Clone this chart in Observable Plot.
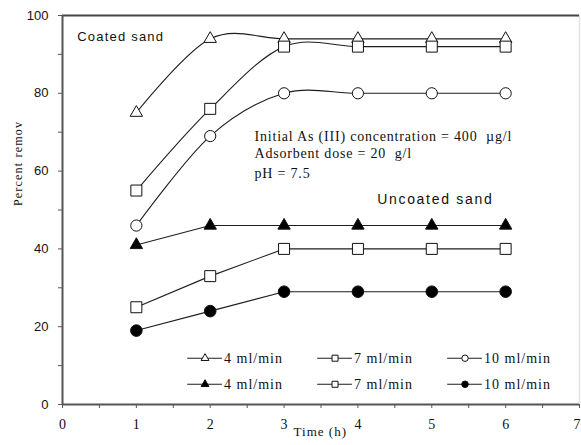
<!DOCTYPE html>
<html>
<head>
<meta charset="utf-8">
<script src="https://cdn.jsdelivr.net/npm/d3@7"></script>
<script src="https://cdn.jsdelivr.net/npm/@observablehq/plot@0.6"></script>
<style>
  html, body { margin: 0; padding: 0; background: #fff; }
  #chart svg { display: block; }
</style>
</head>
<body>
<div id="chart"></div>
<script>
// ---- data ----
const times = [1, 2, 3, 4, 5, 6];
const coated4 = [75, 94, 94, 94, 94, 94];
const coated7 = [55, 76, 92, 92, 92, 92];
const coated10 = [46, 69, 80, 80, 80, 80];
const uncoated4 = [41, 46, 46, 46, 46, 46];
const uncoated7 = [25, 33, 40, 40, 40, 40];
const uncoated10 = [19, 24, 29, 29, 29, 29];
const xTicks = [0, 1, 2, 3, 4, 5, 6];
const xLastTick = [7];
const yTicks = [0, 20, 40, 60, 80, 100];
const flowLabels = ["4 ml/min", "7 ml/min", "10 ml/min"];

// ---- series styling ----
const series = [
  {key: "c4", values: coated4, symbol: "triangle", fill: "white", curve: "cardinal", r: 4.6, col: 0, row: 0},
  {key: "c7", values: coated7, symbol: "square", fill: "white", curve: "cardinal", r: 6.2, col: 1, row: 0},
  {key: "c10", values: coated10, symbol: "circle", fill: "white", curve: "cardinal", r: 5.6, col: 2, row: 0},
  {key: "u4", values: uncoated4, symbol: "triangle", fill: "black", curve: "linear", r: 4.6, col: 0, row: 1},
  {key: "u7", values: uncoated7, symbol: "square", fill: "white", curve: "linear", r: 6.2, col: 1, row: 1},
  {key: "u10", values: uncoated10, symbol: "circle", fill: "black", curve: "linear", r: 5.8, col: 2, row: 1}
];

// annotation / legend placement (data units)
const legendColX = [1.93, 3.69, 5.45];
const legendRowY = [11.9, 5.2];
const legendHalf = 0.235;

const lineColor = "#1e1e1e";
const axisColor = "#555";

const marks = [];
// light right edge
marks.push(Plot.ruleX([7], {stroke: "#e4e4e4", strokeWidth: 1.5}));
// frame lines
marks.push(Plot.ruleY([100], {stroke: "#444", strokeWidth: 2}));
marks.push(Plot.ruleX([0], {stroke: axisColor, strokeWidth: 2}));
marks.push(Plot.ruleY([0], {stroke: axisColor, strokeWidth: 2}));

// axes
marks.push(Plot.axisX({
  ticks: d3.range(0, 7.01, 0.5),
  tickFormat: d => xTicks.includes(d) ? String(d) : "",
  tickSize: 4, tickPadding: 11, stroke: axisColor,
  fontFamily: "Liberation Serif", fontSize: 14, label: null
}));
marks.push(Plot.axisX({
  ticks: xLastTick, tickFormat: d => String(d), tickSize: 0, tickPadding: 15, textAnchor: "end", dx: 1,
  fontFamily: "Liberation Serif", fontSize: 14, label: null
}));
marks.push(Plot.axisY({
  ticks: d3.range(0, 101, 10),
  tickFormat: d => yTicks.includes(d) ? String(d) : "",
  tickSize: 4, tickPadding: 10, stroke: axisColor,
  fontFamily: "Liberation Sans", fontSize: 13, label: null
}));

// series
for (const s of series) {
  const rows = times.map((t, i) => ({t, v: s.values[i]}));
  marks.push(Plot.line(rows, {x: "t", y: "v", curve: s.curve, stroke: lineColor, strokeWidth: 1.1}));
}
for (const s of series) {
  const rows = times.map((t, i) => ({t, v: s.values[i]}));
  marks.push(Plot.dot(rows, {x: "t", y: "v", symbol: s.symbol, r: s.r, fill: s.fill, stroke: "#111", strokeWidth: 1}));
}

// legend
const legendItems = series.map(s => ({
  x: legendColX[s.col], y: legendRowY[s.row], symbol: s.symbol, fill: s.fill, r: s.r, label: flowLabels[s.col]
}));
marks.push(Plot.ruleY(legendItems, {y: "y", x1: d => d.x - legendHalf, x2: d => d.x + legendHalf, stroke: lineColor, strokeWidth: 1.1}));
marks.push(Plot.dot(legendItems, {x: "x", y: "y", symbol: d => d.symbol, fill: d => d.fill, r: d => d.r, stroke: "#111", strokeWidth: 1}));
marks.push(Plot.text(legendItems, {x: "x", y: "y", text: "label", dx: 19, textAnchor: "start", fontFamily: "Liberation Serif", fontSize: 14, fill: "#111"}));

// annotations
marks.push(Plot.text(["Coated sand"], {x: 0.2, y: 94.5, textAnchor: "start", fontFamily: "Liberation Sans", fontSize: 13, fill: "#111"}));
marks.push(Plot.text(["Uncoated sand"], {x: 4.26, y: 52.6, textAnchor: "start", fontFamily: "Liberation Sans", fontSize: 14, fill: "#111"}));
marks.push(Plot.text(["Initial As (III) concentration = 400  \u00b5g/l"], {x: 2.6, y: 69.0, textAnchor: "start", fontFamily: "Liberation Serif", fontSize: 14, fill: "#111"}));
marks.push(Plot.text(["Adsorbent dose = 20  g/l"], {x: 2.6, y: 64.4, textAnchor: "start", fontFamily: "Liberation Serif", fontSize: 14, fill: "#111"}));
marks.push(Plot.text(["pH = 7.5"], {x: 2.6, y: 59.5, textAnchor: "start", fontFamily: "Liberation Serif", fontSize: 14, fill: "#111"}));

// axis titles
marks.push(Plot.text(["Percent remov"], {frameAnchor: "left", y: 51, dx: -44, rotate: -90, fontFamily: "Liberation Serif", fontSize: 12, fill: "#111"}));
marks.push(Plot.text(["Time (h)"], {x: 3.49, frameAnchor: "bottom", dy: 31, fontFamily: "Liberation Serif", fontSize: 13, fill: "#111"}));

const chart = Plot.plot({
  width: 581,
  height: 445,
  marginLeft: 62,
  marginRight: 2,
  marginTop: 15,
  marginBottom: 41,
  x: {domain: [0, 7]},
  y: {domain: [0, 100]},
  style: {background: "white", color: "#111"},
  marks
});

// letter spacing tweaks
const spacing = {
  "Coated sand": "1.2px",
  "Uncoated sand": "1.7px",
  "Initial As (III) concentration = 400  \u00b5g/l": "0.8px",
  "Adsorbent dose = 20  g/l": "0.8px",
  "pH = 7.5": "0.8px",
  "Percent remov": "1.2px",
  "Time (h)": "1px",
  "4 ml/min": "1px", "7 ml/min": "1px", "10 ml/min": "1px"
};
d3.select(chart).selectAll("text").each(function() {
  const t = this.textContent;
  if (spacing[t]) { this.setAttribute("letter-spacing", spacing[t]); this.setAttribute("xml:space", "preserve"); this.style.whiteSpace = "pre"; }
});
document.getElementById("chart").appendChild(chart);
</script>
</body>
</html>
